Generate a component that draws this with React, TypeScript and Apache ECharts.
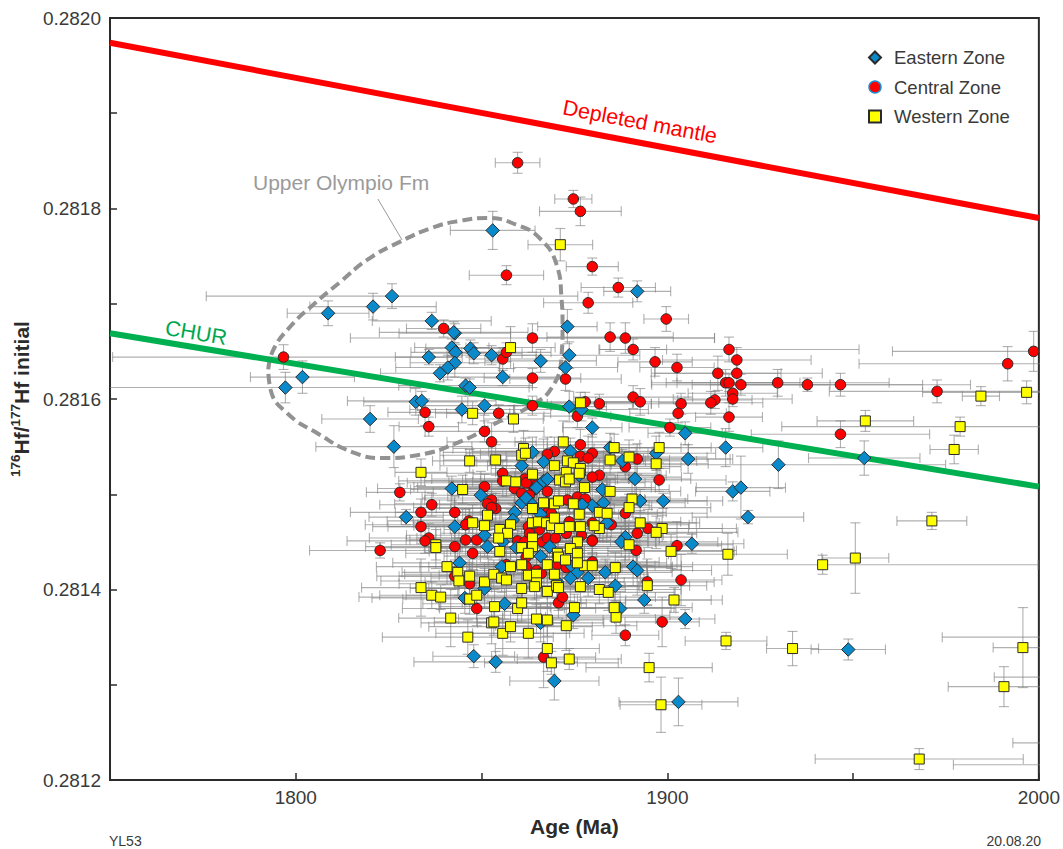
import React, { useEffect, useRef } from "react";
import * as echarts from "echarts";

// Rows: [age Ma, 176Hf/177Hf x 1e6, age error, Hf error x 1e6]
const eastern: number[][] = [
  [1853,281777,11.4,20],[1825.9,281708,50,13],[1820.8,281697,17,14],[1808.7,281690,11,13],[1836.6,281682,16,9],
  [1842.8,281669,15,10],[1842.5,281670,20,11],[1873.1,281676,8,18],[1842,281654,10,9],[1843,281649,12,8],
  [1835.8,281644,9,8],[1847,281653,12,9],[1847.9,281648,13,11],[1852.7,281646,12,10],[1865.9,281640,15,12],
  [1873.6,281646,19,14],[1872.6,281633,14,10],[1842.8,281638,12,15],[1840.9,281633,14,13],[1838.8,281627,16,9],
  [1855.7,281623,16,9],[1801.8,281623,14,17],[1797.2,281612,50,16],[1845.7,281614,18,8],[1846.8,281612,16,9],
  [1832.3,281597,14,14],[1833.9,281598,20,10],[1844.7,281589,14,14],[1850.8,281593,18,10],[1873.6,281592,10,16],
  [1876.9,281589,18,12],[1820,281579,13,14],[1826.4,281550,21,22],[1879.8,281570,8,10],[1891.9,281713,9,11],
  [1904.8,281564,10,12],[1915.7,281549,10,20],[1905.6,281537,12,15],[1929.9,281531,45,25],[1953,281538,15,18],
  [1917.6,281503,10,10],[1919.8,281507,12,33],[1921.7,281476,15,7],[1906.6,281448,14,10],[1898.9,281493,16,8],
  [1892.7,281493,18,12],[1891.3,281516,15,16],[1887.9,281535,20,12],[1897,281543,16,18],[1884.6,281549,14,15],
  [1882.5,281505,18,17],[1882.8,281491,22,14],[1879.8,281488,16,20],[1883.8,281470,24,15],[1888.7,281455,18,24],
  [1887.6,281450,26,16],[1890.8,281424,16,20],[1891.9,281420,20,26],[1883.3,281418,18,14],[1873.9,281545,22,14],
  [1878.7,281412,15,19],[1863.7,281544,24,16],[1866.7,281534,18,24],[1860.8,281530,22,15],[1842,281506,20,13],
  [1849.8,281499,15,25],[1864.8,281507,32,18],[1866.7,281514,17,14],[1867.7,281516,22,20],[1860.8,281491,19,16],
  [1862,281496,28,13],[1858.9,281481,16,19],[1863.7,281489,25,24],[1865.9,281479,21,15],[1877.1,281489,18,13],
  [1829.7,281476,10,8],[1842.8,281466,18,15],[1850.8,281457,21,22],[1851.6,281445,17,13],[1858.4,281473,30,17],
  [1855.7,281450,19,19],[1859.4,281444,15,14],[1868.3,281445,24,28],[1865.9,281435,26,16],[1844.1,281428,18,26],
  [1855.4,281424,22,15],[1874.4,281424,27,19],[1875.8,281418,17,16],[1873.9,281412,21,24],[1886,281404,20,16],
  [1887.3,281380,15,18],[1893.8,281389,18,14],[1845.5,281391,25,16],[1850.8,281401,20,21],[1856.2,281385,22,16],
  [1865.9,281365,17,20],[1874.7,281373,26,14],[1870.4,281408,18,17],[1876.3,281520,22,14],[1847.9,281330,11,12],
  [1853.8,281324,22,11],[1869.6,281304,12,20],[1903,281282,16,25],[1904.8,281369,8,10],[1948.7,281337,10,11],
];
const central: number[][] = [
  [1859.7,281848,6,11],[1874.7,281810,5,9],[1876.6,281797,11,15],[1879.8,281739,7,9],[1856.7,281730,10,10],
  [1878.7,281701,12,11],[1839.8,281674,10,9],[1863.7,281664,49,15],[1855.7,281642,9,12],[1856.7,281649,12,10],
  [1796.7,281644,46,13],[1863.7,281622,13,10],[1872.6,281621,15,12],[1863.7,281593,12,10],[1834.8,281586,10,14],
  [1854.6,281585,14,9],[1835.8,281571,8,10],[1850.8,281566,16,11],[1852.7,281555,12,20],[1875.8,281582,9,12],
  [1877.9,281597,13,10],[1886.8,281717,10,10],[1899.7,281684,6,13],[1884.6,281665,17,15],[1888.7,281664,24,16],
  [1890.8,281652,9,11],[1896.7,281639,10,15],[1902.6,281633,10,14],[1916.6,281652,35,13],[1918.7,281641,20,13],
  [1913.6,281627,17,18],[1918.7,281627,23,12],[1915.7,281617,20,14],[1916.6,281617,14,9],[1919.8,281615,24,11],
  [1929.7,281617,30,14],[1937.7,281615,31,7],[1946.6,281615,35,12],[1972.6,281608,29,12],[1991.6,281637,40,18],
  [1998.6,281650,38,21],[1917.6,281606,12,10],[1917.6,281600,16,8],[1912.8,281599,10,9],[1911.7,281596,14,12],
  [1903.7,281595,8,11],[1902.9,281585,13,10],[1916.6,281581,9,15],[1890.8,281602,16,12],[1892.7,281597,12,14],
  [1881.7,281595,14,10],[1900.7,281570,11,9],[1946.6,281563,24,14],[1876.6,281552,16,16],[1869.6,281545,22,15],
  [1879.8,281543,15,20],[1876.6,281540,20,14],[1878.7,281538,17,23],[1891.9,281537,25,16],[1888.7,281529,15,14],
  [1881.7,281520,18,18],[1879.8,281518,24,13],[1897.8,281515,18,12],[1894.8,281464,20,20],[1891.9,281459,16,15],
  [1888.7,281480,22,17],[1902.6,281446,12,25],[1891.6,281441,27,14],[1879.8,281452,18,18],[1894.6,281408,18,24],
  [1903.7,281410,11,27],[1898.6,281366,10,26],[1866.7,281329,14,32],[1888.7,281352,9,11],[1848.7,281380,20,18],
  [1870.7,281386,18,16],[1871.8,281392,25,13],[1846.8,281406,19,22],[1842.8,281414,15,14],[1867.7,281542,18,18],
  [1855.7,281522,22,14],[1855.7,281514,28,16],[1850.8,281508,19,13],[1858.9,281506,15,18],[1861.6,281516,25,15],
  [1863.4,281510,21,14],[1860.8,281501,17,21],[1862,281512,32,16],[1865,281510,19,13],[1867.7,281503,24,15],
  [1864.3,281505,15,17],[1862.9,281499,22,14],[1852.7,281494,18,20],[1851.6,281490,25,13],[1853.8,281485,16,16],
  [1852.7,281486,21,15],[1836.6,281489,14,12],[1833.7,281481,19,14],[1842.8,281481,16,17],[1833.7,281466,13,18],
  [1846.6,281472,22,13],[1845.7,281468,27,16],[1835.8,281454,16,15],[1834.8,281451,21,13],[1845.7,281452,15,16],
  [1848.7,281452,19,20],[1842.8,281445,24,14],[1847.6,281438,18,17],[1828,281502,9,9],[1875.8,281497,25,15],
  [1877.9,281495,16,19],[1873.1,281494,21,13],[1867.7,281481,15,18],[1868.8,281480,22,14],[1873.6,281471,30,16],
  [1879.8,281470,18,22],[1884.9,281468,21,13],[1862.6,281466,15,15],[1865.6,281463,24,17],[1862.9,281459,19,14],
  [1872.8,281459,16,21],[1876.9,281457,22,16],[1879.8,281451,15,14],[1859.7,281451,25,13],[1861.6,281450,18,18],
  [1866.4,281450,21,15],[1867.7,281454,16,20],[1869.9,281454,28,14],[1862,281434,19,17],[1856.7,281426,15,16],
  [1864.8,281420,22,19],[1862,281424,16,14],[1866.1,281417,19,24],[1870.4,281426,24,15],[1872.8,281423,15,17],
  [1879.8,281429,18,14],[1822.7,281441,19,8],
];
const western: number[][] = [
  [1871.2,281762,8.7,17],[1857.8,281654,12,22],[1847.6,281585,10,12],[1858.6,281579,8,14],[1876.6,281596,14,11],
  [1953.3,281577,13,11],[1978.8,281571,48,10],[1977.2,281547,6.5,15],[1984.4,281603,5,10],[1996.7,281607,28,12],
  [1971.2,281472,9.4,9],[1950.6,281433,9,37],[1941.8,281426,58,10],[1916.3,281437,16,22],[1901,281440,17,18],
  [1898.6,281464,20,14],[1897,281460,22,17],[1892.7,281470,16,13],[1889.7,281447,28,16],[1897.8,281549,14,16],
  [1885.7,281549,18,14],[1889.7,281539,21,18],[1884.6,281536,16,15],[1884.6,281503,19,13],[1890.5,281495,15,19],
  [1889.7,281486,22,14],[1881.7,281481,18,17],[1883.8,281480,15,15],[1881.7,281464,24,13],[1886.2,281371,19,17],
  [1995.7,281339,8,42],[1990.6,281298,15,21],[1967.8,281222,28,11],[1933.7,281338,7,18],[1915.8,281346,11,9],
  [1895.1,281318,17,15],[1898.3,281279,11,29],[1901.8,281389,13,13],[1894.6,281404,16,21],[1867.7,281338,14,24],
  [1868.8,281323,18,12],[1873.6,281327,14,11],[1846.3,281350,23,18],[1841.7,281370,14,30],[1833.7,281402,16,30],
  [1836.6,281394,14,14],[1839,281392,22,13],[1840.7,281424,19,19],[1843.6,281418,15,26],[1843.9,281409,21,15],
  [1846.8,281414,25,18],[1846.8,281390,18,16],[1848.7,281394,19,13],[1850.8,281408,16,20],[1853.3,281416,24,15],
  [1853.5,281382,15,18],[1852.7,281365,19,22],[1853.3,281366,16,14],[1855.7,281354,18,23],[1857.8,281361,22,16],
  [1862.6,281354,15,26],[1859.7,281380,21,14],[1860.8,281386,16,19],[1860.8,281401,25,16],[1855.4,281412,19,15],
  [1856.7,281410,15,22],[1857.8,281424,22,14],[1860.8,281426,18,17],[1862.6,281415,24,13],[1864.8,281416,16,18],
  [1864.8,281407,21,16],[1864.3,281403,15,14],[1867.7,281426,19,19],[1869.6,281416,25,15],[1867.7,281398,16,18],
  [1870.2,281404,22,13],[1870.7,281402,18,24],[1864.8,281369,21,15],[1867.7,281368,15,17],[1875,281381,26,14],
  [1872.8,281362,19,26],[1876.6,281403,16,17],[1881.7,281400,22,15],[1884.1,281397,18,19],[1885.7,281381,21,14],
  [1886,281423,15,16],[1877.7,281425,19,22],[1879.8,281425,24,14],[1833.7,281523,7,14],[1846.8,281535,10,12],
  [1853.8,281536,14,16],[1844.9,281505,14,15],[1861.3,281548,19,19],[1860.8,281541,22,14],[1861.8,281543,16,16],
  [1872,281555,13,22],[1869.6,281530,18,17],[1873.1,281535,21,14],[1874.7,281533,15,18],[1876.6,281527,24,15],
  [1872.8,281523,19,13],[1863.7,281521,16,19],[1856.7,281514,22,16],[1859.2,281513,18,14],[1871,281515,15,17],
  [1872.6,281513,25,15],[1873.6,281516,16,21],[1876.3,281522,21,14],[1877.7,281507,18,16],[1866.7,281491,24,18],
  [1869.6,281490,15,15],[1870.7,281493,19,24],[1874.7,281490,16,17],[1863.7,281485,22,14],[1851.6,281478,18,16],
  [1876.3,281479,21,13],[1847.6,281470,16,19],[1850.8,281467,19,15],[1854.9,281463,15,18],[1857.8,281468,25,16],
  [1857,281459,18,14],[1854.6,281454,22,17],[1863.7,281470,16,22],[1865.3,281471,19,15],[1867.5,281470,15,13],
  [1868.8,281467,24,17],[1869.6,281475,18,16],[1871,281464,21,14],[1873.6,281466,16,20],[1876.6,281466,22,15],
  [1880.3,281467,15,16],[1863.7,281454,19,18],[1863.7,281445,25,14],[1860.8,281444,16,17],[1875.8,281450,21,15],
  [1873.9,281443,18,13],[1837.7,281447,12,16],[1837.7,281444,15,22],[1854.9,281440,19,15],[1862.6,281438,15,18],
  [1870.4,281438,22,14],[1875.8,281438,18,19],[1870.7,281434,21,16],[1872.6,281431,16,13],[1875.8,281428,24,17],
  [1897,281532,14,14],
];
// Bars whose centres lie beyond the right edge of the plot
const offscale: number[][] = [[2005,281350,31,10],[2003,281308,15,9],[2006,281239,13,6],[2005,281216,28,9]];

const depletedMantle = [[1750, 281974], [2000, 281790]];
const chur = [[1750, 281669], [2000, 281508]];
const olympioOutline = [
  [1792.6,281631],[1794,281652],[1798.5,281676],[1804.7,281699],[1812,281723],[1819.2,281746],[1828,281765],
  [1836.9,281780],[1844.1,281787],[1851.4,281790],[1859.4,281783],[1865.6,281769],[1870.2,281741],[1871.5,281707],
  [1871.8,281676],[1871.5,281644],[1869.1,281613],[1863.7,281594],[1854.1,281575],[1844.1,281555],[1832.6,281541],
  [1823.5,281538],[1815.4,281544],[1805.8,281564],[1797.7,281585],[1793.2,281610],[1792.6,281631],
];
const olympioLeader = [[1822.1,281810],[1828.6,281767]];

const ppm = (rows: number[][]) => rows.map(([a, h]) => [a, h / 1e6]);
const FONT = "Liberation Sans";

export default function App() {
  const ref = useRef<HTMLDivElement>(null);
  useEffect(() => {
    const chart = echarts.init(ref.current!, null, { renderer: "svg" });
    const bars = [...central, ...eastern, ...western, ...offscale].map(([a, h, ea, eh]) => [a, h / 1e6, ea, eh / 1e6]);
    const mark = (name: string, rows: number[][], symbol: string, size: number, color: string, z: number) => ({
      name, type: "scatter", data: ppm(rows), symbol, symbolSize: size, z,
      itemStyle: { color, borderColor: "#2a2a2a", borderWidth: 1, opacity: 1 },
    });
    chart.setOption({
      animation: false,
      backgroundColor: "#fff",
      textStyle: { fontFamily: FONT },
      grid: { left: 109, top: 18, width: 932, height: 762, show: true, borderColor: "#2b2b2b", borderWidth: 2, backgroundColor: "transparent" },
      xAxis: {
        type: "value", min: 1750, max: 2000, interval: 50,
        name: "Age (Ma)", nameLocation: "middle", nameGap: 36,
        nameTextStyle: { fontSize: 21, fontWeight: "bold", color: "#2b2b2b", fontFamily: FONT },
        axisLine: { show: true, lineStyle: { color: "#2b2b2b", width: 2 } },
        axisTick: { show: true, inside: true, length: 7, lineStyle: { color: "#2b2b2b", width: 1.5 } },
        splitLine: { show: false },
        axisLabel: { fontSize: 19, color: "#3a3a3a", margin: 8, fontFamily: FONT, hideOverlap: false,
          showMinLabel: false, formatter: (v: number) => (v % 100 === 0 ? String(v) : "") },
      },
      yAxis: {
        type: "value", min: 0.2812, max: 0.282, interval: 0.0001,
        name: "{s|176}{b|Hf/}{s|177}{b|Hf initial}", nameLocation: "middle", nameRotate: 90, nameGap: 74,
        nameTextStyle: { rich: {
          b: { fontSize: 21, fontWeight: "bold", color: "#2b2b2b", fontFamily: FONT, lineHeight: 24, verticalAlign: "bottom" },
          s: { fontSize: 13.5, fontWeight: "bold", color: "#2b2b2b", fontFamily: FONT, lineHeight: 24, verticalAlign: "top" },
        } },
        axisLine: { show: true, lineStyle: { color: "#2b2b2b", width: 2 } },
        axisTick: { show: true, inside: true, length: 7, lineStyle: { color: "#2b2b2b", width: 1.5 } },
        splitLine: { show: false },
        axisLabel: { fontSize: 19, color: "#3a3a3a", margin: 9, fontFamily: FONT, hideOverlap: false,
          formatter: (v: number) => (Math.round(v * 10000) % 2 === 0 ? v.toFixed(4) : "") },
      },
      legend: {
        data: [
          { name: "Eastern Zone" },
          { name: "Central Zone", itemStyle: { borderColor: "#1a8fd0", borderWidth: 1.5 } },
          { name: "Western Zone" },
        ],
        orient: "vertical", left: 863, top: 43, itemWidth: 12, itemHeight: 12, itemGap: 10.5, padding: 5,
        formatter: (n: string) => `{t|${n}}`,
        textStyle: { rich: { t: { fontSize: 18.5, color: "#3a3a3a", fontFamily: FONT, padding: [0, 0, 0, 8] } } },
        selectedMode: false,
      },
      graphic: [
        { type: "text", x: 253, y: 172, silent: true, style: { text: "Upper Olympio Fm", fill: "#9a9a9a", fontSize: 21, fontFamily: FONT } },
        { type: "text", x: 640, y: 122, rotation: -0.187, silent: true, style: { text: "Depleted mantle", fill: "#ff0000", fontSize: 21.5, fontFamily: FONT, align: "center", verticalAlign: "middle" } },
        { type: "text", x: 196, y: 333, rotation: -0.165, silent: true, style: { text: "CHUR", fill: "#00a650", fontSize: 21.5, fontFamily: FONT, align: "center", verticalAlign: "middle" } },
        { type: "text", x: 109, y: 848, silent: true, style: { text: "YL53", fill: "#3a3a3a", fontSize: 14, fontFamily: FONT, verticalAlign: "bottom" } },
        { type: "text", x: 1041, y: 848, silent: true, style: { text: "20.08.20", fill: "#3a3a3a", fontSize: 14, fontFamily: FONT, align: "right", verticalAlign: "bottom" } },
      ],
      series: [
        {
          type: "custom", name: "errors", data: bars, clip: true, z: 1, silent: true,
          encode: { x: 0, y: 1 },
          renderItem: (_: any, api: any) => {
            const a = api.value(0), h = api.value(1), ea = api.value(2), eh = api.value(3);
            const l = api.coord([a - ea, h]), r = api.coord([a + ea, h]);
            const t = api.coord([a, h + eh]), b = api.coord([a, h - eh]);
            const cap = 5;
            const seg = (x1: number, y1: number, x2: number, y2: number) => ({
              type: "line", shape: { x1, y1, x2, y2 }, style: { stroke: "#808080", lineWidth: 1.1, opacity: 0.62 },
            });
            return { type: "group", children: [
              seg(l[0], l[1], r[0], r[1]), seg(t[0], t[1], b[0], b[1]),
              seg(l[0], l[1] - cap, l[0], l[1] + cap), seg(r[0], r[1] - cap, r[0], r[1] + cap),
              seg(t[0] - cap, t[1], t[0] + cap, t[1]), seg(b[0] - cap, b[1], b[0] + cap, b[1]),
            ] };
          },
        },
        { type: "line", data: ppm(olympioLeader), symbol: "none", z: 2, silent: true, lineStyle: { color: "#9a9a9a", width: 1 } },
        { type: "line", data: ppm(olympioOutline), symbol: "none", smooth: 0.5, z: 3, silent: true, lineStyle: { color: "#929292", width: 4, type: [10, 5] } },
        { type: "line", data: ppm(depletedMantle), symbol: "none", z: 3, silent: true, lineStyle: { color: "#ff0000", width: 6, cap: "butt" } },
        { type: "line", data: ppm(chur), symbol: "none", z: 3, silent: true, lineStyle: { color: "#00b050", width: 6, cap: "butt" } },
        mark("Central Zone", central, "circle", 10.5, "#ff0000", 4),
        mark("Eastern Zone", eastern, "diamond", 13.5, "#0a8acb", 5),
        mark("Western Zone", western, "rect", 10, "#ffff00", 6),
      ],
    });
    return () => chart.dispose();
  }, []);
  return <div ref={ref} style={{ position: "absolute", left: 0, top: 0, width: 1063, height: 849 }} />;
}
